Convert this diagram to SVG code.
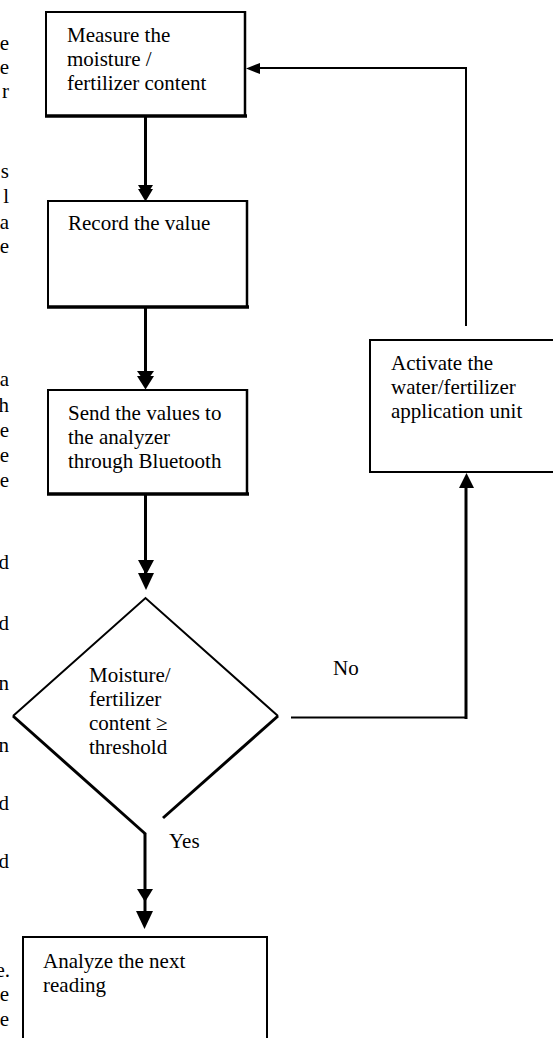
<svg xmlns="http://www.w3.org/2000/svg" width="553" height="1038" viewBox="0 0 553 1038">
<style>
text{font-family:"Liberation Serif","Times New Roman",serif;font-size:21px;fill:#000}
.frag{text-anchor:end}
.box{fill:#fff;stroke:#000;stroke-width:2}
.thick{stroke:#000;stroke-width:3.5;fill:none}
.ln{stroke:#000;fill:none}
.head{fill:#000;stroke:none}
</style>
<rect width="553" height="1038" fill="#fff"/>
<g id="margin-text">
<text class="frag" x="9" y="50">e</text>
<text class="frag" x="9" y="74">e</text>
<text class="frag" x="9" y="98">r</text>
<text class="frag" x="9" y="178">s</text>
<text class="frag" x="9" y="203">l</text>
<text class="frag" x="9" y="229">a</text>
<text class="frag" x="9" y="253">e</text>
<text class="frag" x="9" y="386">a</text>
<text class="frag" x="9" y="412">h</text>
<text class="frag" x="9" y="437">e</text>
<text class="frag" x="9" y="462">e</text>
<text class="frag" x="9" y="487">e</text>
<text class="frag" x="9" y="569">d</text>
<text class="frag" x="9" y="630">d</text>
<text class="frag" x="9" y="690">n</text>
<text class="frag" x="9" y="752">n</text>
<text class="frag" x="9" y="810">d</text>
<text class="frag" x="9" y="868">d</text>
<text class="frag" x="10" y="977">e.</text>
<text class="frag" x="9" y="1001">e</text>
<text class="frag" x="9" y="1026">e</text>
</g>
<g id="connectors">
<line class="ln" x1="145.5" y1="117" x2="145.5" y2="188" stroke-width="3"/>
<polygon class="head" points="138,185 153,185 145.5,197"/>
<polygon class="head" points="138,189 153,189 145.5,201.5"/>
<line class="ln" x1="145.5" y1="308" x2="145.5" y2="374" stroke-width="3"/>
<polygon class="head" points="137,371 154,371 145.5,383"/>
<polygon class="head" points="137,376 154,376 145.5,389.5"/>
<line class="ln" x1="145.5" y1="495" x2="145.5" y2="575" stroke-width="3"/>
<polygon class="head" points="138,560 154,560 146,575"/>
<polygon class="head" points="138,573 154,573 146,590"/>
<line class="ln" x1="145" y1="833" x2="145" y2="912" stroke-width="3"/>
<polygon class="head" points="137,889 153,889 145,902"/>
<polygon class="head" points="136,911 153,911 144.5,929"/>
<polyline class="ln" points="291,717.5 466,717.5" stroke-width="2"/>
<line class="ln" x1="466" y1="719" x2="466" y2="486" stroke-width="3"/>
<polygon class="head" points="459,488 474,488 466.5,473"/>
<polyline class="ln" points="466,326 466,68 258,68" stroke-width="2"/>
<polygon class="head" points="246,68.5 260,63 260,74"/>
<text x="169" y="848">Yes</text>
<text x="333" y="675">No</text>
</g>
<g id="node-measure">
<rect class="box" x="46" y="12" width="199" height="104"/>
<line class="thick" x1="45" y1="116" x2="247" y2="116"/>
<line class="ln" x1="245" y1="11" x2="245" y2="117" stroke-width="2.5"/>
<text x="67" y="42">Measure the</text>
<text x="67" y="66">moisture /</text>
<text x="67" y="90">fertilizer content</text>
</g>
<g id="node-record">
<rect class="box" x="48" y="201" width="199" height="106"/>
<line class="thick" x1="47" y1="307" x2="249" y2="307"/>
<line class="ln" x1="247" y1="200" x2="247" y2="308" stroke-width="2.5"/>
<text x="68" y="230">Record the value</text>
</g>
<g id="node-send">
<rect class="box" x="48" y="390" width="199" height="104"/>
<line class="thick" x1="47" y1="494" x2="249" y2="494"/>
<line class="ln" x1="247" y1="389" x2="247" y2="495" stroke-width="2.5"/>
<text x="68" y="420">Send the values to</text>
<text x="68" y="444">the analyzer</text>
<text x="68" y="468">through Bluetooth</text>
</g>
<g id="node-decision">
<polyline class="ln" points="13,716 145.5,598 278,716" stroke-width="2"/>
<line class="ln" x1="13" y1="716" x2="145.5" y2="834" stroke-width="3"/>
<line class="ln" x1="278" y1="716" x2="163" y2="818" stroke-width="3"/>
<text x="89" y="682">Moisture/</text>
<text x="89" y="706">fertilizer</text>
<text x="89" y="730">content ≥</text>
<text x="89" y="754">threshold</text>
</g>
<g id="node-activate">
<rect class="box" x="370" y="340" width="200" height="132"/>
<text x="391" y="370">Activate the</text>
<text x="391" y="394">water/fertilizer</text>
<text x="391" y="418">application unit</text>
</g>
<g id="node-analyze">
<rect class="box" x="23" y="937" width="244" height="120"/>
<text x="43" y="968">Analyze the next</text>
<text x="43" y="992">reading</text>
</g>
</svg>
